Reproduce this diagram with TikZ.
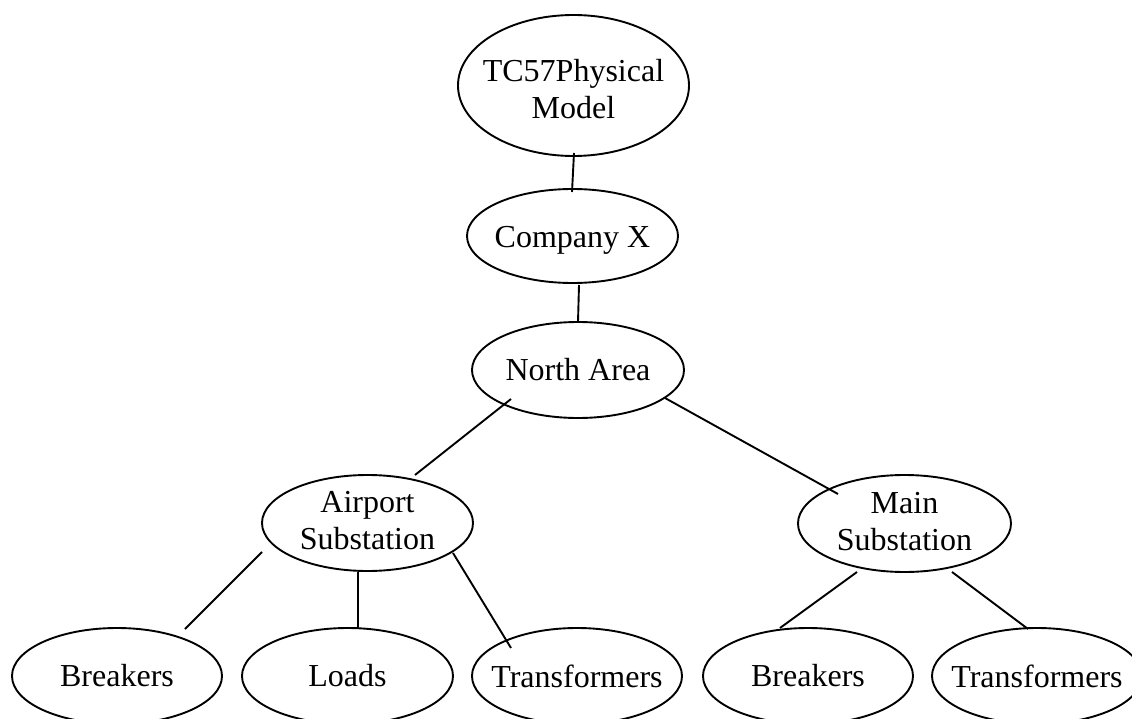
\documentclass[tikz,border=0pt]{standalone}
\usepackage{fontspec}
\setmainfont{Liberation Serif}
\usetikzlibrary{shapes.geometric,calc}

\tikzset{
  oval/.style={draw=black, line width=1.9pt, ellipse, inner sep=0pt,
               minimum width=210pt, minimum height=96pt},
  caption/.style={font=\fontsize{32}{37}\selectfont, align=center, inner sep=0pt},
  link/.style={draw=black, line width=1.9pt}
}

\begin{document}
\begin{tikzpicture}[x=1pt, y=-1pt]
  \useasboundingbox (0,0) rectangle (1132,719);
  \clip (0,0) rectangle (1132,719);

  % tree nodes (ellipses with their captions centred inside)
  \node[oval, minimum width=231pt, minimum height=141pt,
        label={[caption, yshift=-4pt]center:TC57Physical\\Model}] (tc) at (573.5,85.5) {};
  \node[oval, minimum width=211pt, minimum height=94pt,
        label={[caption, yshift=-4pt]center:Company X}] (co) at (572.5,236) {};
  \node[oval, minimum width=212pt,
        label={[caption]center:North Area}] (na) at (578,370) {};
  \node[oval, minimum width=211pt,
        label={[caption, yshift=2pt]center:Airport\\Substation}] (air) at (367.5,523) {};
  \node[oval, minimum width=213pt, minimum height=97pt,
        label={[caption, yshift=2pt]center:Main\\Substation}] (main) at (904.5,523.5) {};

  \node[oval, label={[caption]center:Breakers}] (b1) at (117,676) {};
  \node[oval, minimum width=211pt, label={[caption]center:Loads}] (ld) at (347.5,676) {};
  \node[oval, label={[caption]center:Transformers}] (t1) at (577,676) {};
  \node[oval, label={[caption]center:Breakers}] (b2) at (808,676) {};
  \node[oval, label={[caption]center:Transformers}] (t2) at (1037,676) {};

  % connectors between parent and child
  \draw[link] ($(tc)+(0.5,67.5)$) -- ($(co)+(-0.5,-44)$);
  \draw[link] ($(co)+(6.5,49)$) -- ($(na)+(0,-48)$);
  \draw[link] ($(na)+(-67,29)$) -- ($(air)+(47.5,-48)$);
  \draw[link] ($(na)+(87,28)$) -- ($(main)+(-66.5,-29.5)$);
  \draw[link] ($(air)+(-105.5,29)$) -- ($(b1)+(68,-47)$);
  \draw[link] ($(air)+(-9.5,49)$) -- ($(ld)+(10.5,-48)$);
  \draw[link] ($(air)+(85.5,30)$) -- ($(t1)+(-66,-28)$);
  \draw[link] ($(main)+(-47.5,48.5)$) -- ($(b2)+(-28,-48)$);
  \draw[link] ($(main)+(47.5,48.5)$) -- ($(t2)+(-9,-47)$);
\end{tikzpicture}
\end{document}
